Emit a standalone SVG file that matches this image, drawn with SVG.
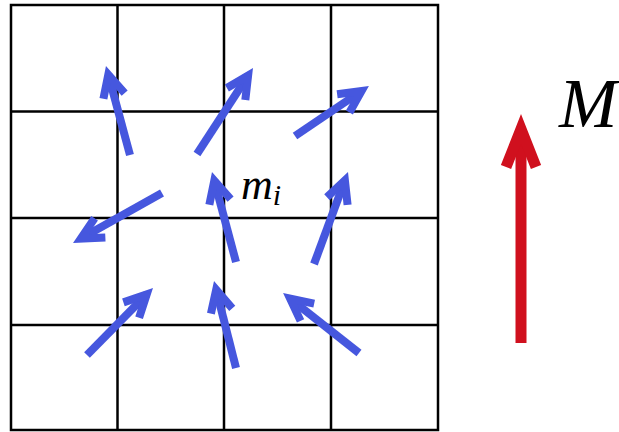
<svg xmlns="http://www.w3.org/2000/svg" width="619" height="432" viewBox="0 0 619 432">
<style>
.grid{stroke:#000;stroke-width:2.5;fill:none}
.m{stroke:#4657de;stroke-width:8;fill:none;stroke-linecap:butt}
.big{stroke:#d0101e;stroke-width:11;fill:none}
.lbl{font-family:"Liberation Serif",serif;font-style:italic;fill:#000}
</style>
<defs>
<marker id="hb" markerUnits="userSpaceOnUse" orient="auto" refX="0" refY="0" overflow="visible" markerWidth="1" markerHeight="1">
<path d="M-22,-11 L0,0 L-22,11" fill="none" stroke="#4657de" stroke-width="8" stroke-linejoin="miter" stroke-miterlimit="10"/>
</marker>
<marker id="hr" markerUnits="userSpaceOnUse" orient="auto" refX="0" refY="0" overflow="visible" markerWidth="1" markerHeight="1">
<path d="M-38,-15 L0,0 L-38,15" fill="none" stroke="#d0101e" stroke-width="11" stroke-linejoin="miter" stroke-miterlimit="10"/>
</marker>
</defs>
<rect width="619" height="432" fill="#fff"/>
<g id="grid" class="grid">
<rect x="11" y="5" width="427" height="425"/>
<line x1="117.5" y1="5" x2="117.5" y2="430"/>
<line x1="224" y1="5" x2="224" y2="430"/>
<line x1="331" y1="5" x2="331" y2="430"/>
<line x1="11" y1="111.5" x2="438" y2="111.5"/>
<line x1="11" y1="218" x2="438" y2="218"/>
<line x1="11" y1="325" x2="438" y2="325"/>
</g>
<g id="connectors">
<line class="m" marker-end="url(#hb)" x1="130" y1="155" x2="108.3" y2="74.7"/>
<line class="m" marker-end="url(#hb)" x1="197" y1="154" x2="248.1" y2="75.5"/>
<line class="m" marker-end="url(#hb)" x1="295" y1="136" x2="361.5" y2="91"/>
<line class="m" marker-end="url(#hb)" x1="162" y1="193" x2="80.8" y2="238.6"/>
<line class="m" marker-end="url(#hb)" x1="236" y1="262" x2="214.3" y2="180.7"/>
<line class="m" marker-end="url(#hb)" x1="314" y1="264" x2="344.9" y2="180.4"/>
<line class="m" marker-end="url(#hb)" x1="87" y1="355" x2="146.7" y2="294.4"/>
<line class="m" marker-end="url(#hb)" x1="236" y1="368" x2="216.2" y2="289.7"/>
<line class="m" marker-end="url(#hb)" x1="359" y1="353" x2="290.1" y2="298.6"/>
<line class="big" marker-end="url(#hr)" x1="521" y1="343" x2="521" y2="129"/>
</g>
<g id="label-mi">
<text class="lbl" x="241" y="199" font-size="44">m<tspan font-size="30" dy="6">i</tspan></text>
</g>
<g id="label-M">
<text class="lbl" x="559" y="127" font-size="70">M</text>
</g>
</svg>
